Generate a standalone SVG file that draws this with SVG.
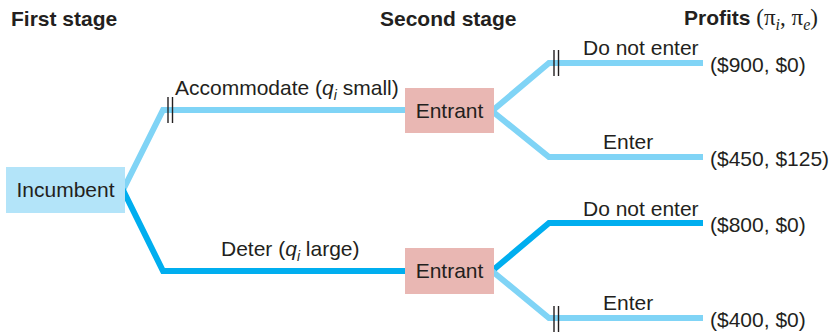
<svg xmlns="http://www.w3.org/2000/svg" width="832" height="332" viewBox="0 0 832 332">
<style>
text{font-family:"Liberation Sans",Arial,sans-serif;font-size:21px;fill:#231f20}
.hd{font-weight:bold}
.sub{font-size:14px;font-style:italic}
.it{font-style:italic}
.ser{font-family:"Liberation Serif","Times New Roman",serif;font-size:23px}
.sers{font-family:"Liberation Serif","Times New Roman",serif;font-size:16px;font-style:italic}
.light{fill:none;stroke:#80d4f6;stroke-width:6;stroke-linejoin:miter}
.dark{fill:none;stroke:#00aeef;stroke-width:6;stroke-linejoin:miter}
.bar{stroke:#231f20;stroke-width:1.4}
.inc{fill:#b3e4f9}
.ent{fill:#e9b7b3}
</style>
<rect width="832" height="332" fill="#ffffff"/>
<g id="headers">
<text class="hd" x="11" y="26">First stage</text>
<text class="hd" x="380" y="26">Second stage</text>
<text x="684" y="25"><tspan class="hd">Profits</tspan><tspan class="ser"> (π</tspan><tspan class="sers" dy="5">i</tspan><tspan class="ser" dy="-5">, π</tspan><tspan class="sers" dy="5">e</tspan><tspan class="ser" dy="-5">)</tspan></text>
</g>
<g id="connectors">
<polyline class="light" points="122,192 163,110 406,110"/>
<polyline class="dark" points="122,188 163,271 406,271"/>
<polyline class="light" points="492,111 549,63 703,63"/>
<polyline class="light" points="492,111 549,157 703,157"/>
<polyline class="dark" points="492,271 549,223 703,223"/>
<polyline class="light" points="492,271 549,318 703,318"/>
<line class="bar" x1="168" y1="97" x2="168" y2="123"/>
<line class="bar" x1="172.5" y1="97" x2="172.5" y2="123"/>
<line class="bar" x1="554" y1="50" x2="554" y2="76"/>
<line class="bar" x1="558.5" y1="50" x2="558.5" y2="76"/>
<line class="bar" x1="554" y1="306" x2="554" y2="332"/>
<line class="bar" x1="558.5" y1="306" x2="558.5" y2="332"/>
<text x="175" y="95">Accommodate (<tspan class="it">q</tspan><tspan class="sub" dy="5">i</tspan><tspan dy="-5"> small)</tspan></text>
<text x="221" y="256">Deter (<tspan class="it">q</tspan><tspan class="sub" dy="5">i</tspan><tspan dy="-5"> large)</tspan></text>
<text x="583" y="55">Do not enter</text>
<text x="603" y="149">Enter</text>
<text x="583" y="216">Do not enter</text>
<text x="603" y="310">Enter</text>
</g>
<g id="incumbent">
<rect class="inc" x="6" y="167" width="119" height="46"/>
<text x="65.5" y="197" text-anchor="middle">Incumbent</text>
</g>
<g id="entrant-top">
<rect class="ent" x="405" y="88" width="89" height="45"/>
<text x="449.5" y="118" text-anchor="middle">Entrant</text>
</g>
<g id="entrant-bottom">
<rect class="ent" x="405" y="248" width="89" height="46"/>
<text x="449.5" y="278" text-anchor="middle">Entrant</text>
</g>
<g id="payoffs">
<text x="710" y="72">($900, $0)</text>
<text x="710" y="166">($450, $125)</text>
<text x="710" y="232">($800, $0)</text>
<text x="710" y="327">($400, $0)</text>
</g>
</svg>
